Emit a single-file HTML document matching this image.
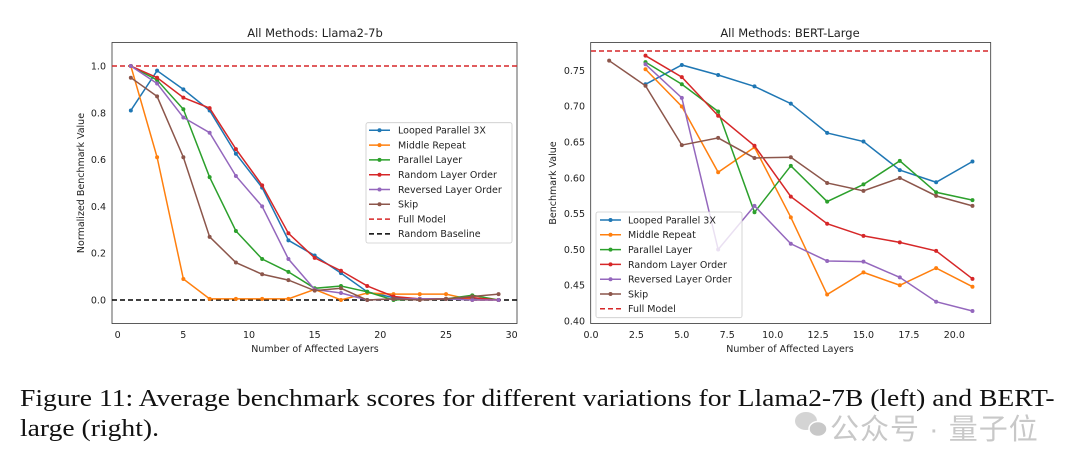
<!DOCTYPE html>
<html><head><meta charset="utf-8"><style>
body{margin:0;background:#fff;width:1080px;height:464px;overflow:hidden;position:relative}
svg{position:absolute;left:0;top:0}
text{font-family:"DejaVu Sans",sans-serif;fill:#222}
.cap{position:absolute;left:20px;font-family:"Liberation Serif",serif;font-size:24px;color:#111;white-space:nowrap;transform-origin:0 0;transform:scaleX(1.15)}
.wm{position:absolute;left:830px;top:406px;font-family:"Liberation Sans","Noto Sans CJK SC",sans-serif;font-size:29px;color:#c8c8c8;letter-spacing:1px}
</style></head><body>
<svg id="s" width="1080" height="464" xmlns="http://www.w3.org/2000/svg">
<text x="315" y="37" font-size="11.5" text-anchor="middle">All Methods: Llama2-7b</text>
<rect x="112" y="42.5" width="405" height="281" fill="none" stroke="#333" stroke-width="0.8"/>
<g font-size="9.5" text-anchor="end">
<text x="106" y="69.5">1.0</text><text x="106" y="116.3">0.8</text><text x="106" y="163.1">0.6</text><text x="106" y="209.9">0.4</text><text x="106" y="256.7">0.2</text><text x="106" y="303.5">0.0</text>
</g>
<g font-size="9.5" text-anchor="middle">
<text x="117.7" y="338">0</text><text x="183.3" y="338">5</text><text x="249" y="338">10</text><text x="314.7" y="338">15</text><text x="380.3" y="338">20</text><text x="446" y="338">25</text><text x="511.7" y="338">30</text>
</g>
<text x="315" y="352" font-size="9.5" text-anchor="middle">Number of Affected Layers</text>
<text transform="translate(84,183) rotate(-90)" font-size="9.5" text-anchor="middle">Normalized Benchmark Value</text>
<text x="790" y="37" font-size="11.5" text-anchor="middle">All Methods: BERT-Large</text>
<rect x="590.7" y="42.5" width="400" height="281" fill="none" stroke="#333" stroke-width="0.8"/>
<g font-size="9.5" text-anchor="end">
<text x="585" y="74">0.75</text><text x="585" y="109.7">0.70</text><text x="585" y="145.5">0.65</text><text x="585" y="181.3">0.60</text><text x="585" y="217">0.55</text><text x="585" y="252.8">0.50</text><text x="585" y="288.6">0.45</text><text x="585" y="324.3">0.40</text>
</g>
<g font-size="9.5" text-anchor="middle">
<text x="591" y="338">0.0</text><text x="636.4" y="338">2.5</text><text x="681.8" y="338">5.0</text><text x="727.2" y="338">7.5</text><text x="772.7" y="338">10.0</text><text x="818.1" y="338">12.5</text><text x="863.5" y="338">15.0</text><text x="908.9" y="338">17.5</text><text x="954.3" y="338">20.0</text>
</g>
<text x="790" y="352" font-size="9.5" text-anchor="middle">Number of Affected Layers</text>
<text transform="translate(556,183) rotate(-90)" font-size="9.5" text-anchor="middle">Benchmark Value</text>
<g id="plots"></g>
<rect x="366" y="122.7" width="146" height="120.3" fill="#fff" fill-opacity="0.8" stroke="#ccc" stroke-width="0.8" rx="2"/>
<g font-size="9.5">
<text x="398" y="133.6">Looped Parallel 3X</text><text x="398" y="148.4">Middle Repeat</text><text x="398" y="163.2">Parallel Layer</text><text x="398" y="178">Random Layer Order</text><text x="398" y="192.8">Reversed Layer Order</text><text x="398" y="207.6">Skip</text><text x="398" y="222.4">Full Model</text><text x="398" y="237.2">Random Baseline</text>
</g>
<g id="leg1"></g>
<rect x="596" y="212" width="146" height="105.7" fill="#fff" fill-opacity="0.8" stroke="#ccc" stroke-width="0.8" rx="2"/>
<g font-size="9.5">
<text x="628" y="223.4">Looped Parallel 3X</text><text x="628" y="238.2">Middle Repeat</text><text x="628" y="253">Parallel Layer</text><text x="628" y="267.8">Random Layer Order</text><text x="628" y="282.6">Reversed Layer Order</text><text x="628" y="297.4">Skip</text><text x="628" y="312.2">Full Model</text>
</g>
<g id="leg2"></g>
<ellipse cx="806" cy="421" rx="11" ry="9" fill="#d4d4d4"/>
<ellipse cx="818" cy="429" rx="9" ry="7.5" fill="#c8c8c8" stroke="#fff" stroke-width="1.5"/>
</svg>
<div class="cap" style="top:386px">Figure 11: Average benchmark scores for different variations for Llama2-7B (left) and BERT-</div>
<div class="cap" style="top:416px">large (right).</div>
<div class="wm">公众号 · 量子位</div>
<script>
var C=['#1f77b4','#ff7f0e','#2ca02c','#d62728','#9467bd','#8c564b'];
var L=[[0.81,0.98,0.90,0.81,0.625,0.48,0.255,0.19,0.115,0.035,0.01,0.005,0.005,0.005,0.0],
[1.0,0.61,0.09,0.005,0.005,0.005,0.005,0.045,0.0,0.03,0.025,0.025,0.025,0.0,0.0],
[1.0,0.94,0.815,0.525,0.295,0.175,0.12,0.05,0.06,0.035,0.0,0.005,0.005,0.02,0.0],
[1.0,0.95,0.865,0.82,0.645,0.49,0.285,0.18,0.125,0.06,0.015,0.005,0.005,0.01,0.0],
[1.0,0.925,0.78,0.715,0.53,0.40,0.175,0.045,0.03,0.0,0.005,0.005,0.005,0.0,0.0],
[0.95,0.87,0.61,0.27,0.16,0.11,0.085,0.04,0.05,0.0,0.005,0.0,0.005,0.015,0.025]];
var R=[[null,.731,.758,.744,.728,.704,.663,.651,.611,.594,.623],
[null,.752,.700,.608,.643,.545,.437,.468,.450,.474,.448],
[null,.762,.731,.693,.552,.617,.567,.591,.624,.580,.569],
[null,.771,.741,.687,.645,.574,.536,.519,.510,.498,.459],
[null,.759,.712,.500,.561,.508,.484,.483,.461,.427,.414],
[.764,.729,.646,.656,.628,.629,.593,.582,.600,.575,.561]];
var NS='http://www.w3.org/2000/svg',g=document.getElementById('plots');
function el(p,t,a){var e=document.createElementNS(NS,t);for(var k in a)e.setAttribute(k,a[k]);p.appendChild(e);return e;}
el(g,'line',{x1:112,x2:517,y1:66,y2:66,stroke:'#d62728','stroke-width':1.4,'stroke-dasharray':'5,3'});
el(g,'line',{x1:112,x2:517,y1:300,y2:300,stroke:'#000','stroke-width':1.4,'stroke-dasharray':'5,3'});
el(g,'line',{x1:591,x2:990.7,y1:51,y2:51,stroke:'#d62728','stroke-width':1.4,'stroke-dasharray':'5,3'});
function draw(data,fx,fy){data.forEach(function(s,i){var pts=[];s.forEach(function(v,j){if(v===null)return;var x=fx(1+2*j),y=fy(v);pts.push(x+','+y);el(g,'circle',{cx:x,cy:y,r:2,fill:C[i]});});el(g,'polyline',{points:pts.join(' '),fill:'none',stroke:C[i],'stroke-width':1.5});});}
draw(L,function(x){return 117.7+x*13.133},function(v){return 300-v*234});
draw(R,function(x){return 591+x*18.165},function(v){return 70.7+(0.75-v)/0.05*35.76});
function leg(id,x1,x2,y0,n){var p=document.getElementById(id);for(var i=0;i<n;i++){var y=y0+i*14.8;var col=i<6?C[i]:(i==6?'#d62728':'#000');var a={x1:x1,x2:x2,y1:y,y2:y,stroke:col,'stroke-width':1.5};if(i>=6)a['stroke-dasharray']='5,3';el(p,'line',a);if(i<6)el(p,'circle',{cx:(x1+x2)/2,cy:y,r:2,fill:col});}}
leg('leg1',369,390,130.3,8);leg('leg2',600,621,220,7);
</script>
</body></html>
